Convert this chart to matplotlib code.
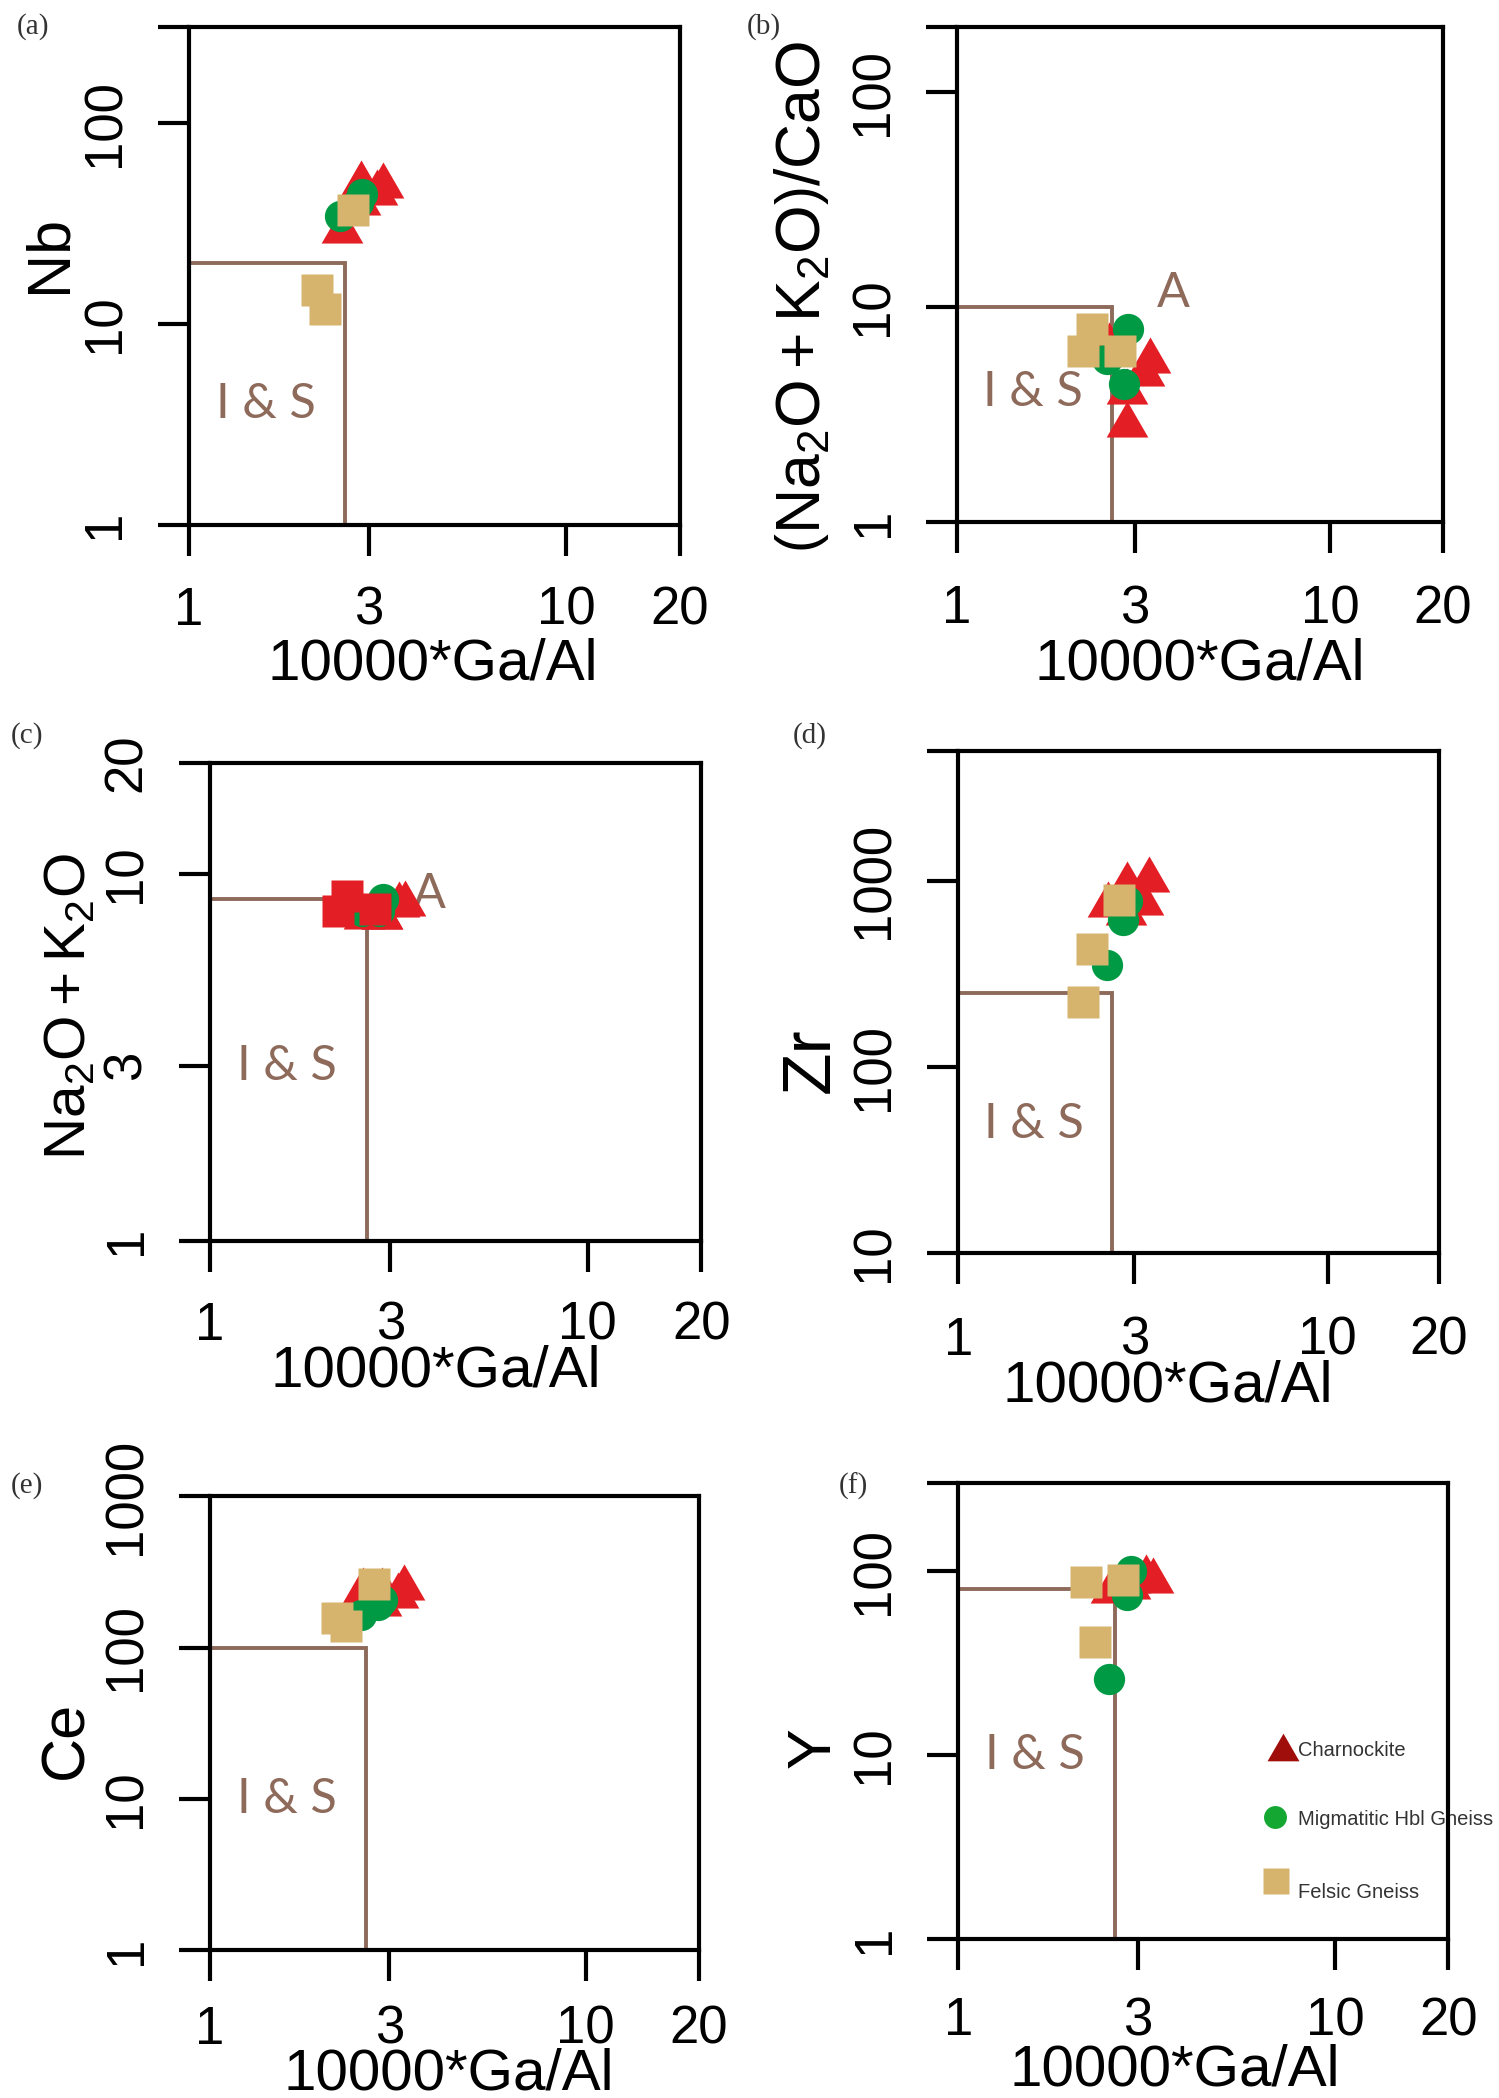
import matplotlib.pyplot as plt
import matplotlib.ticker as mticker

plt.rcParams['font.family'] = ['Liberation Sans', 'DejaVu Sans']
plt.rcParams['mathtext.fontset'] = 'custom'
plt.rcParams['mathtext.rm'] = 'Liberation Sans'
plt.rcParams['mathtext.it'] = 'Liberation Sans:italic'
plt.rcParams['mathtext.bf'] = 'Liberation Sans:bold'

# 10000*Ga/Al for each sample group
charn_x = [2.55, 2.85, 2.86, 3.16, 3.28]
migm_x = [2.52, 2.80, 2.87]
felsic_x = [2.18, 2.30, 2.73]

# element values, one list per panel and group
charn_nb = [30.9, 42.8, 53.2, 48.0, 51.8]
migm_nb = [34.4, 40.0, 44.4]
felsic_nb = [14.8, 11.9, 36.8]

charn_alk_cao = [7.0, 3.0, 4.3, 5.2, 6.0]
migm_alk_cao = [5.7, 4.4, 7.9]
felsic_alk_cao = [6.2, 7.9, 6.2]

charn_alk = [7.9, 7.9, 7.9, 8.5, 8.6]
migm_alk = [7.9, 7.9, 8.5]
felsic_alk = [7.9, 8.7, 8.0]

charn_zr = [797, 719, 1018, 814, 1082]
migm_zr = [352, 615, 780]
felsic_zr = [224, 430, 789]

charn_ce = [260, 212, 258, 241, 273]
migm_ce = [164, 190, 207]
felsic_ce = [156, 139, 262]

charn_y = [83.5, 88, 95, 98.3, 95.5]
migm_y = [26, 74, 100]
felsic_y = [86.9, 41.0, 89.1]

# A-type boundary (Whalen et al.)
ga_al_cut = 2.6
elem_cuts = [20, 10, 8.5, 250, 100, 80]

x_ticks = [1, 3, 10, 20]
x_labels = ['1', '3', '10', '20']

panel_tags = ['(a)', '(b)', '(c)', '(d)', '(e)', '(f)']
y_names = ['Nb', r'$\left(\mathrm{Na_2O+K_2O}\right)/\mathrm{CaO}$',
           r'$\mathrm{Na_2O+K_2O}$', 'Zr', 'Ce', 'Y']
y_lims = [(1, 300), (1, 200), (1, 20), (10, 5000), (1, 1000), (1, 300)]
y_ticks = [[1, 10, 100, 300], [1, 10, 100, 200], [1, 3, 10, 20],
           [10, 100, 1000, 5000], [1, 10, 100, 1000], [1, 10, 100, 300]]
y_tick_labels = [['1', '10', '100', ''], ['1', '10', '100', ''],
                 ['1', '3', '10', '20'], ['10', '100', '1000', ''],
                 ['1', '10', '100', '1000'], ['1', '10', '100', '']]
is_label_y = [4.0, 4.0, 3.0, 49, 10, 10]
a_label_y = [None, 11.6, 8.8, None, None, None]

charn_vals = [charn_nb, charn_alk_cao, charn_alk, charn_zr, charn_ce, charn_y]
migm_vals = [migm_nb, migm_alk_cao, migm_alk, migm_zr, migm_ce, migm_y]
felsic_vals = [felsic_nb, felsic_alk_cao, felsic_alk, felsic_zr, felsic_ce, felsic_y]

# layout (figure fractions) and label placement
rects = [(0.1259, 0.7499, 0.3277, 0.2373), (0.6384, 0.7512, 0.3241, 0.2360),
         (0.1402, 0.4086, 0.3277, 0.2277), (0.6393, 0.4029, 0.3205, 0.2392),
         (0.1402, 0.0705, 0.3259, 0.2163), (0.6393, 0.0756, 0.3268, 0.2175)]
ylab_off = [139, 154, 140, 148, 143, 144]
ylab_frac = [0.543, 0.454, 0.49, 0.384, 0.463, 0.42]
xlab_off = [140, 143, 131, 134, 124, 131]
xlab_frac = [0.496, 0.5, 0.46, 0.436, 0.489, 0.441]
xtick_pad = [22, 22.7, 21.3, 23.4, 17.5, 19]
ylab_size = [44, 45, 42, 50, 44, 44]
tag_pos = [(33, 27), (764, 27), (27, 736), (810, 736), (27, 1486), (853, 1486)]

RED = '#E31E24'
GREEN = '#009A44'
TAN = '#D6B46E'
BROWN = '#8E6A5B'
TRI = [(-1, -0.866), (1, -0.866), (0, 0.866)]

W, H = 1499, 2098
fig = plt.figure(figsize=(W / 100, H / 100), dpi=100)

for i in range(6):
    ax = fig.add_axes(rects[i])
    ax.set_xscale('log')
    ax.set_yscale('log')
    ax.set_xlim(1, 20)
    ax.set_ylim(*y_lims[i])

    cut = elem_cuts[i]
    ax.plot([1, ga_al_cut, ga_al_cut], [cut, cut, y_lims[i][0]],
            color=BROWN, lw=2.8, solid_joinstyle='miter', zorder=2)
    ax.text(1.6, is_label_y[i], 'I & S', family='Lato', fontsize=35,
            color=BROWN, ha='center', va='center')
    if a_label_y[i] is not None:
        ax.text(3.8, a_label_y[i], 'A', family='Lato', fontsize=35,
                color=BROWN, ha='center', va='center')

    sq_color = RED if i == 2 else TAN
    ax.plot(charn_x, charn_vals[i], ls='none', marker=TRI, ms=30,
            color=RED, mec='none', zorder=3)
    ax.plot(migm_x, migm_vals[i], ls='none', marker='o', ms=22.5,
            color=GREEN, mec='none', zorder=4)
    ax.plot(felsic_x, felsic_vals[i], ls='none', marker='s', ms=22.5,
            color=sq_color, mec='none', zorder=5)

    ax.xaxis.set_major_locator(mticker.FixedLocator(x_ticks))
    ax.xaxis.set_major_formatter(mticker.FixedFormatter(x_labels))
    ax.yaxis.set_major_locator(mticker.FixedLocator(y_ticks[i]))
    ax.yaxis.set_major_formatter(mticker.FixedFormatter(y_tick_labels[i]))
    ax.xaxis.set_minor_locator(mticker.NullLocator())
    ax.yaxis.set_minor_locator(mticker.NullLocator())
    ax.tick_params(direction='out', length=22, width=3, labelsize=38)
    ax.tick_params(axis='x', pad=xtick_pad[i])
    ax.tick_params(axis='y', pad=20, labelrotation=90)
    for lab in ax.get_yticklabels():
        lab.set_va('center')
    for sp in ax.spines.values():
        sp.set_linewidth(3)

    bbox = ax.get_position()
    wpx, hpx = bbox.width * W, bbox.height * H
    ax.set_xlabel('10000*Ga/Al', fontsize=42, va='center')
    ax.xaxis.set_label_coords(xlab_frac[i], -xlab_off[i] / hpx)
    ax.set_ylabel(y_names[i], fontsize=ylab_size[i], va='center')
    ax.yaxis.set_label_coords(-ylab_off[i] / wpx, ylab_frac[i])

    fig.text(tag_pos[i][0] / W, 1 - tag_pos[i][1] / H, panel_tags[i],
             family='Liberation Serif', fontsize=21, color='#333333',
             ha='center', va='center')

    if i == 5:
        leg_names = ['Charnockite', 'Migmatitic Hbl Gneiss', 'Felsic Gneiss']
        leg_marks = [(TRI, '#A00E0B', 0.662, 0.421, 23),
                     ('o', '#14A833', 0.646, 0.269, 16.5),
                     ('s', TAN, 0.648, 0.128, 19)]
        leg_text_y = [0.415, 0.262, 0.102]
        for (mk, col, fx, fy, ms), name, ty in zip(leg_marks, leg_names, leg_text_y):
            ax.plot([fx], [fy], marker=mk, ms=ms, color=col, mec='none',
                    transform=ax.transAxes, clip_on=False, zorder=3)
            ax.text(0.694, ty, name, transform=ax.transAxes, fontsize=14.5,
                    color='#333333', ha='left', va='center', zorder=1)

fig.savefig('out.png', dpi=100)
